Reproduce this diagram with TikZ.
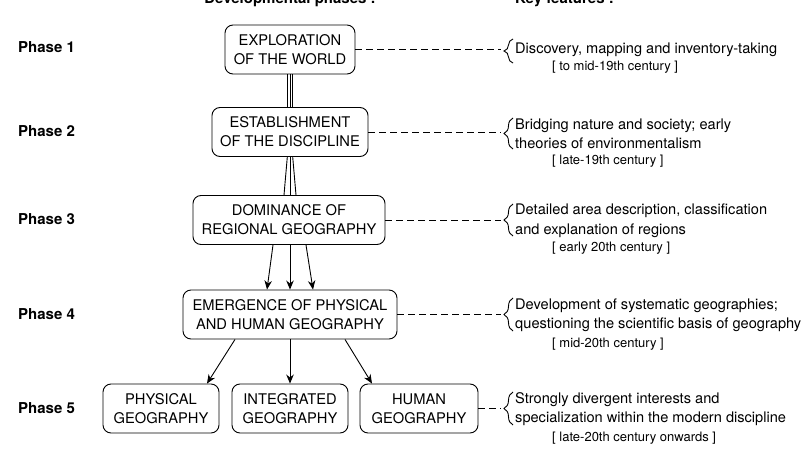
\documentclass[tikz,border=0pt]{standalone}
\usepackage{fontspec}
\setmainfont{TeX Gyre Heros}
\usetikzlibrary{arrows.meta,decorations.pathreplacing}
\tikzset{
	phase/.style={draw, rounded corners=8pt, line width=0.9pt, align=center, minimum height=49pt, inner sep=2pt, font=\fontsize{14.7}{19}\selectfont},
	feature/.style={anchor=west, align=left, inner sep=0pt, font=\fontsize{14.6}{19.5}\selectfont},
	period/.style={anchor=west, inner sep=0pt, font=\fontsize{13}{15}\selectfont},
	phaselabel/.style={anchor=west, inner sep=0pt, font=\bfseries\fontsize{15}{18}\selectfont},
	heading/.style={inner sep=0pt, font=\bfseries\fontsize{15}{18}\selectfont},
	link/.style={line width=0.9pt, dash pattern=on 6.5pt off 4.5pt},
	fbrace/.style={decorate, decoration={brace, amplitude=9pt}, line width=0.9pt},
	flow/.style={line width=0.9pt, -{Stealth[length=9pt,width=7.5pt]}},
}
\begin{document}
\begin{tikzpicture}[x=1pt,y=-1pt]
			\useasboundingbox (0,0) rectangle (803,449);
			\node[heading, anchor=base] (hp) at (290,4) {Developmental phases :};
			\node[heading, anchor=base west] (hk) at (515,4) {Key features :};
			% phase labels
			\node[phaselabel] (l1) at (18,47) {Phase 1};
			\node[phaselabel] (l2) at (18,131) {Phase 2};
			\node[phaselabel] (l3) at (18,219) {Phase 3};
			\node[phaselabel] (l4) at (18,314) {Phase 4};
			\node[phaselabel] (l5) at (18,408) {Phase 5};
			% boxes
			\node[phase, minimum width=130pt] (b1) at (290,49.5) {EXPLORATION\\OF THE WORLD};
			\node[phase, minimum width=156pt] (b2) at (290,132) {ESTABLISHMENT\\OF THE DISCIPLINE};
			\node[phase, minimum width=192pt] (b3) at (289,220) {DOMINANCE OF\\REGIONAL GEOGRAPHY};
			\node[phase, minimum width=214pt] (b4) at (290,314.5) {EMERGENCE OF PHYSICAL\\AND HUMAN GEOGRAPHY};
			\node[phase, minimum width=116pt] (p5) at (161,408.5) {PHYSICAL\\GEOGRAPHY};
			\node[phase, minimum width=116pt] (i5) at (290,408.5) {INTEGRATED\\GEOGRAPHY};
			\node[phase, minimum width=118pt] (h5) at (419,408.5) {HUMAN\\GEOGRAPHY};
			% links between boxes
			\draw[line width=0.9pt] ([xshift=-2.7pt]b1.south) -- ([xshift=-2.7pt]b2.north);
			\draw[line width=0.9pt] (b1.south) -- (b2.north);
			\draw[line width=0.9pt] ([xshift=2.7pt]b1.south) -- ([xshift=2.7pt]b2.north);
			\draw[line width=0.9pt] ([xshift=-2.7pt]b2.south) -- ([xshift=-5pt]b3.north);
			\draw[line width=0.9pt] (b2.south) -- ([xshift=1pt]b3.north);
			\draw[line width=0.9pt] ([xshift=2.7pt]b2.south) -- ([xshift=7pt]b3.north);
			\draw[flow] ([xshift=-16pt]b3.south) -- ([xshift=-23pt]b4.north);
			\draw[flow] ([xshift=1pt]b3.south) -- (b4.north);
			\draw[flow] ([xshift=17pt]b3.south) -- ([xshift=23pt]b4.north);
			\draw[flow] ([xshift=-55pt]b4.south) -- ([xshift=46pt]p5.north);
			\draw[flow] (b4.south) -- (i5.north);
			\draw[flow] ([xshift=55pt]b4.south) -- ([xshift=-47pt]h5.north);
			% key features
			\node[feature] (f1) at (515,50) {Discovery, mapping and inventory-taking};
			\node[feature] (f2) at (515,134) {Bridging nature and society; early\\theories of environmentalism};
			\node[feature] (f3) at (515,220.5) {Detailed area description, classification\\and explanation of regions};
			\node[feature] (f4) at (515,315) {Development of systematic geographies;\\questioning the scientific basis of geography};
			\node[feature] (f5) at (515,409) {Strongly divergent interests and\\specialization within the modern discipline};
			\node[period] (d1) at (552,67) {[ to mid-19th century ]};
			\node[period] (d2) at (552,161) {[ late-19th century ]};
			\node[period] (d3) at (552,248) {[ early 20th century ]};
			\node[period] (d4) at (552,344) {[ mid-20th century ]};
			\node[period] (d5) at (552,438) {[ late-20th century onwards ]};
			% dashed links and braces
			\coordinate (t1) at (501,49.5);
			\coordinate (t2) at (501,132);
			\coordinate (t3) at (501,220);
			\coordinate (t4) at (501,314.5);
			\coordinate (t5) at (501,408.5);
			\draw[link] (b1.east) -- (t1);
			\draw[link] (b2.east) -- (t2);
			\draw[link] (b3.east) -- (t3);
			\draw[link] (b4.east) -- (t4);
			\draw[link] (h5.east) -- (t5);
			\draw[fbrace] (513,63) -- (513,39);
			\draw[fbrace] (513,149) -- (513,118);
			\draw[fbrace] (513,236) -- (513,204);
			\draw[fbrace] (513,331) -- (513,298);
			\draw[fbrace] (513,425) -- (513,392);
		\end{tikzpicture}
\end{document}
